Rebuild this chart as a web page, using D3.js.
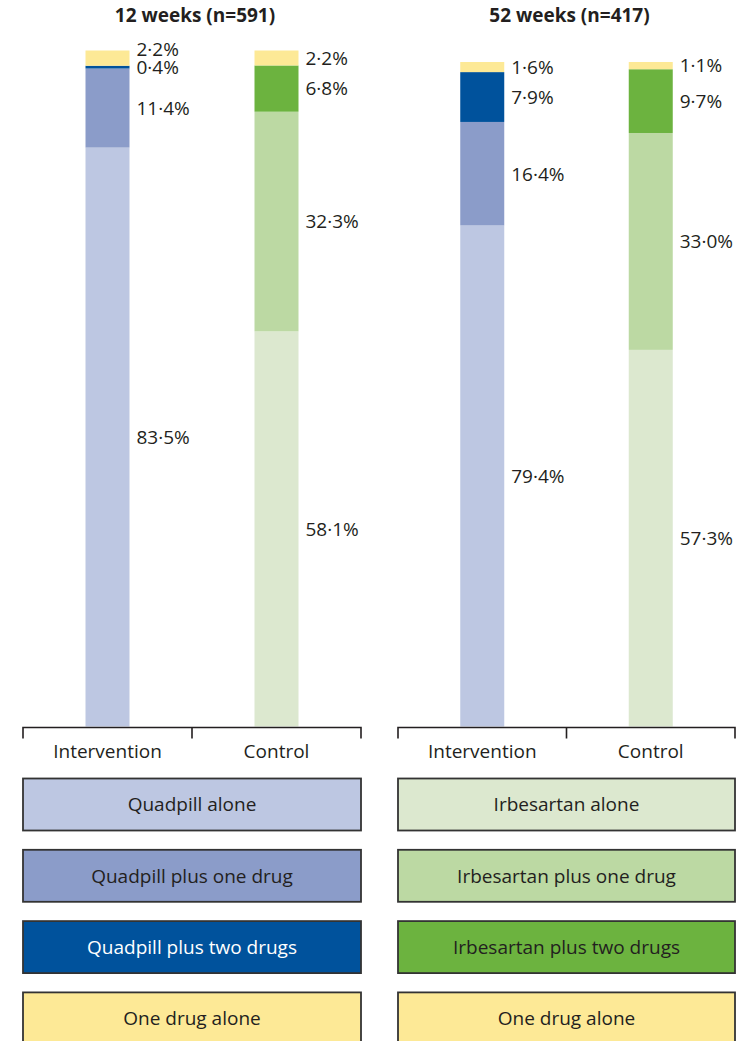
<!DOCTYPE html>
<html>
<head>
<meta charset="utf-8">
<script src="https://cdn.jsdelivr.net/npm/d3@7"></script>
<style>
  html, body { margin: 0; padding: 0; background: #fff; }
  svg { display: block; }
  text { font-family: "Open Sans", "DejaVu Sans", sans-serif; fill: #231f20; }
</style>
</head>
<body>
<svg id="chart" width="740" height="1041"></svg>
<script>
// ---- data ----
const panelTitles = ["12 weeks (n=591)", "52 weeks (n=417)"];
const groups = ["Intervention", "Control"];
const interventionCategories = ["Quadpill alone", "Quadpill plus one drug", "Quadpill plus two drugs", "One drug alone"];
const controlCategories = ["Irbesartan alone", "Irbesartan plus one drug", "Irbesartan plus two drugs", "One drug alone"];
// percentages, bottom segment first
const intervention12 = [83.5, 11.4, 0.4, 2.2];
const control12 = [58.1, 32.3, 6.8, 2.2];
const intervention52 = [79.4, 16.4, 7.9, 1.6];
const control52 = [57.3, 33.0, 9.7, 1.1];

const interventionColors = ["#bdc7e2", "#8b9cc9", "#00529c", "#fde996"];
const controlColors = ["#dce8cf", "#bcd9a3", "#6cb33f", "#fde996"];
const legendTextColors = ["#231f20", "#231f20", "#ffffff", "#231f20"];

const svg = d3.select("#chart");
const fmt = v => d3.format(".1f")(v).replace(".", "\u00b7") + "%";

const panelLayout = [
  { x0: 23, x1: 361, top: 50.5, values: [intervention12, control12] },
  { x0: 398, x1: 735, top: 62, values: [intervention52, control52] }
];
const baseY = 726.5;
const barWidth = 44;
const keys = [0, 1, 2, 3];

panelLayout.forEach((p, pi) => {
  const g = svg.append("g");

  const x = d3.scaleBand().domain(groups).range([p.x0, p.x1]).padding(0);
  const y = d3.scaleLinear().domain([0, 1]).range([baseY, p.top]);

  // title
  g.append("text")
    .attr("x", (p.x0 + p.x1) / 2 + 3)
    .attr("y", 22)
    .attr("text-anchor", "middle")
    .attr("font-weight", "bold")
    .attr("font-size", 19)
    .text(panelTitles[pi]);

  // one row per group, each normalised to its total
  const rows = groups.map((grp, gi) => {
    const r = { group: grp };
    keys.forEach(k => { r[k] = p.values[gi][k]; });
    return r;
  });
  const series = d3.stack().keys(keys).offset(d3.stackOffsetExpand)(rows);

  series.forEach((s, si) => {
    s.forEach((d, gi) => {
      const color = gi === 0 ? interventionColors[si] : controlColors[si];
      const cx = x(d.data.group) + x.bandwidth() / 2;
      g.append("rect")
        .attr("x", cx - barWidth / 2)
        .attr("y", y(d[1]))
        .attr("width", barWidth)
        .attr("height", y(d[0]) - y(d[1]))
        .attr("fill", color);
    });
  });

  // value labels beside each bar, nudged upward where they would collide
  groups.forEach((grp, gi) => {
    const cx = x(grp) + x.bandwidth() / 2;
    let prev = Infinity;
    series.forEach((s, si) => {
      const d = s[gi];
      let cy = (y(d[0]) + y(d[1])) / 2;
      if (cy > prev - 18) cy = prev - 18;
      prev = cy;
      g.append("text")
        .attr("x", cx + barWidth / 2 + 7)
        .attr("y", cy)
        .attr("dy", "0.36em")
        .attr("font-size", 19)
        .text(fmt(p.values[gi][si]));
    });
  });

  // category axis as a bracket
  const axisY = 727.5;
  const axis = d3.axisBottom(x).tickSize(0).tickFormat("");
  const ag = g.append("g").attr("transform", `translate(0,${axisY})`).call(axis);
  ag.select(".domain").remove();
  g.append("path")
    .attr("d", `M${p.x0},${axisY + 11}V${axisY}H${p.x1}V${axisY + 11}M${(p.x0 + p.x1) / 2},${axisY}V${axisY + 11}`)
    .attr("fill", "none")
    .attr("stroke", "#231f20")
    .attr("stroke-width", 1.6);
  groups.forEach(grp => {
    g.append("text")
      .attr("x", x(grp) + x.bandwidth() / 2)
      .attr("y", 758)
      .attr("text-anchor", "middle")
      .attr("font-size", 19)
      .text(grp);
  });

  // legend column
  const cats = pi === 0 ? interventionCategories : controlCategories;
  const cols = pi === 0 ? interventionColors : controlColors;
  cats.forEach((c, i) => {
    const by = 778.5 + i * 71.3;
    g.append("rect")
      .attr("x", p.x0)
      .attr("y", by)
      .attr("width", p.x1 - p.x0)
      .attr("height", 52)
      .attr("fill", cols[i])
      .attr("stroke", "#333")
      .attr("stroke-width", 1.8);
    g.append("text")
      .attr("x", (p.x0 + p.x1) / 2)
      .attr("y", by + 26)
      .attr("dy", "0.36em")
      .attr("text-anchor", "middle")
      .attr("font-size", 19)
      .style("fill", pi === 0 ? legendTextColors[i] : "#231f20")
      .text(c);
  });
});
</script>
</body>
</html>
